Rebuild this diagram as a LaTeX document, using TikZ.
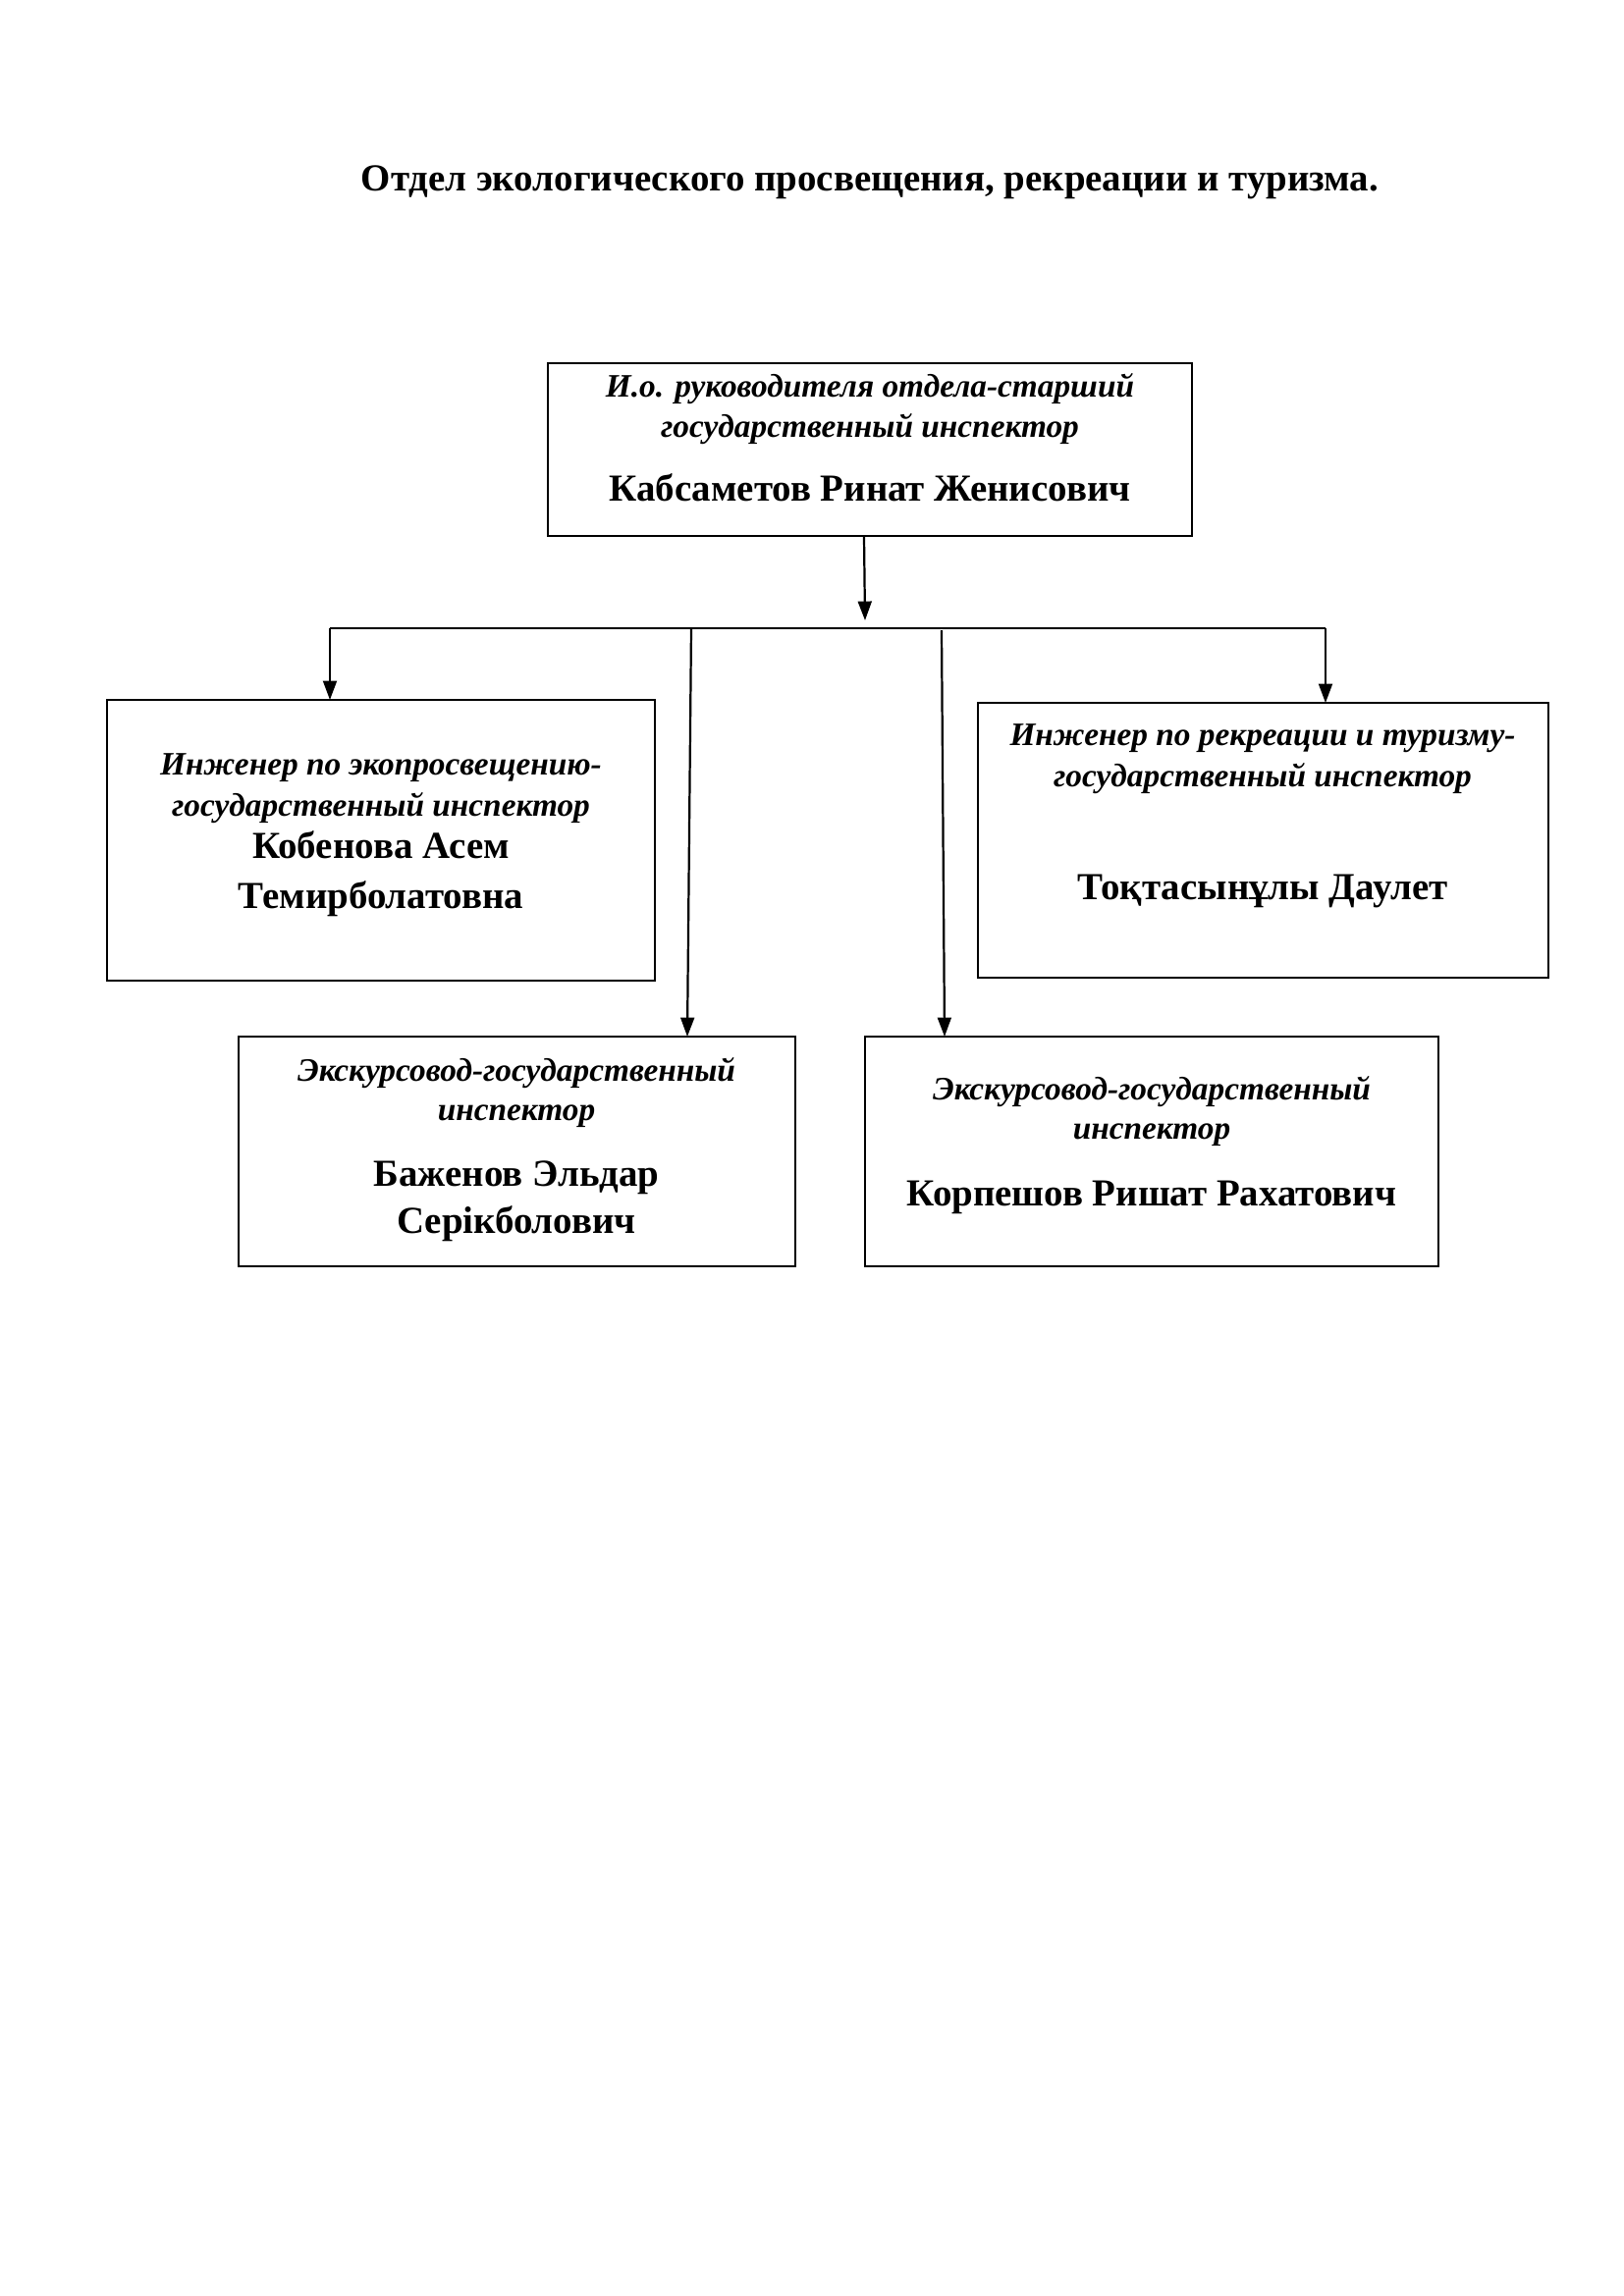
\documentclass[tikz,border=0pt]{standalone}
\usepackage{fontspec}
\setmainfont{Liberation Serif}
\usetikzlibrary{arrows.meta,fit}
\tikzset{
  box/.style={draw=black, line width=0.9pt, inner sep=0pt, outer sep=0pt},
  role/.style={font=\fontsize{12}{14}\selectfont\bfseries\itshape, anchor=mid, inner sep=0pt, yshift=-2.2pt},
  person/.style={font=\fontsize{14}{16}\selectfont\bfseries, anchor=mid, inner sep=0pt, yshift=-2.2pt},
  link/.style={line width=0.8pt, draw=black},
  arr/.style={link, -{Triangle[length=7pt,width=5pt]}},
}
\begin{document}
\begin{tikzpicture}[x=0.3599pt,y=-0.3599pt]
\useasboundingbox (0,0) rectangle (1654,2339);
% title
\node[font=\fontsize{14}{16}\selectfont\bfseries, anchor=base, inner sep=0pt] (title) at (886,194) {Отдел экологического просвещения, рекреации и туризма.};
% boxes
\node[box, fit={(558,370) (1214,546)}] (top) {};
\node[box, fit={(109,713) (667,999)}] (L) {};
\node[box, fit={(996,716) (1577,996)}] (R) {};
\node[box, fit={(243,1056) (810,1290)}] (BL) {};
\node[box, fit={(881,1056) (1465,1290)}] (BR) {};
% texts
\node[role] (t1) at (886,392) {И.о. руководителя отдела-старший};
\node[role] (t2) at (886,433) {государственный инспектор};
\node[person] (t3) at (886,498) {Кабсаметов Ринат Женисович};
\node[role] (l1) at (388,777) {Инженер по экопросвещению-};
\node[role] (l2) at (388,819) {государственный инспектор};
\node[person] (l3) at (388,862) {Кобенова Асем};
\node[person] (l4) at (388,913) {Темирболатовна};
\node[role] (r1) at (1286,747) {Инженер по рекреации и туризму-};
\node[role] (r2) at (1286,789) {государственный инспектор};
\node[person] (r3) at (1286,904) {Тоқтасынұлы Даулет};
\node[role] (b1) at (526,1089) {Экскурсовод-государственный};
\node[role] (b2) at (526,1129) {инспектор};
\node[person] (b3) at (526,1196) {Баженов Эльдар};
\node[person] (b4) at (526,1244) {Серікболович};
\node[role] (c1) at (1173,1108) {Экскурсовод-государственный};
\node[role] (c2) at (1173,1148) {инспектор};
\node[person] (c3) at (1173,1216) {Корпешов Ришат Рахатович};
% connectors
\coordinate (sTop) at (880,546);
\coordinate (jTop) at (881,632);
\coordinate (jL) at (336,640);
\coordinate (jR) at (1350,640);
\coordinate (jM1) at (704,640);
\coordinate (jM2) at (959,642);
\coordinate (eBL) at (700,1056);
\coordinate (eBR) at (962,1056);
\draw[arr] (sTop) -- (jTop);
\draw[link] (jL) -- (jR);
\draw[arr] (jL) -- (jL |- L.north);
\draw[arr] (jR) -- (jR |- R.north);
\draw[arr] (jM1) -- (eBL);
\draw[arr] (jM2) -- (eBR);
\end{tikzpicture}
\end{document}
